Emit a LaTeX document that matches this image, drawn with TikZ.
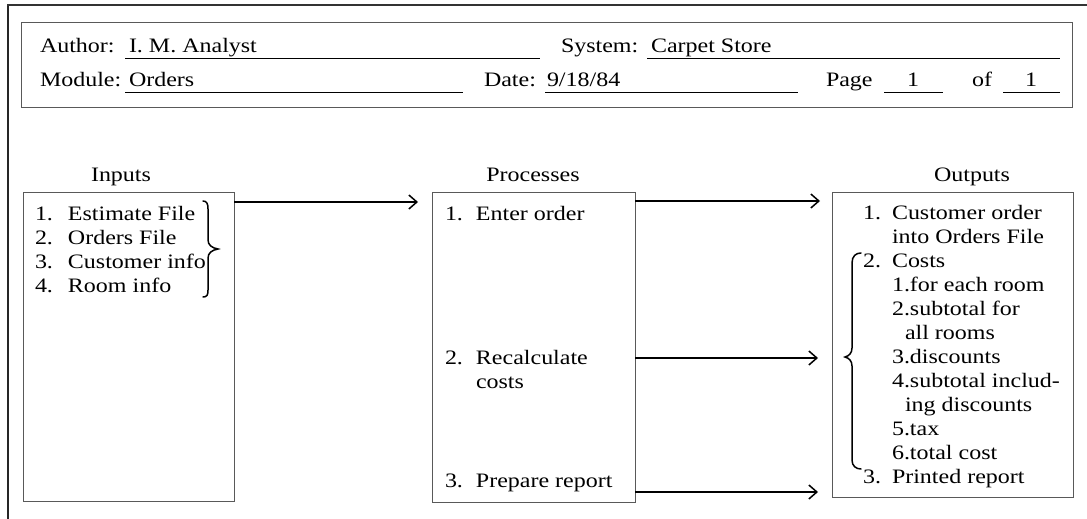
\documentclass[tikz,border=0pt]{standalone}
\usepackage{fontspec}
\setmainfont{Liberation Serif}[FakeStretch=1.17]
\usetikzlibrary{arrows.meta}
\newcommand\fs{\fontsize{20.5}{24}\selectfont}
\begin{document}
\begin{tikzpicture}[x=1pt,y=-1pt,
  txt/.style={inner sep=0pt, outer sep=0pt, anchor=base west, font=\fs},
  lbl/.style={inner sep=0pt, outer sep=0pt, anchor=base, font=\fs},
  frameline/.style={draw=black!85, line width=1.8pt},
  topline/.style={draw=black!80, line width=1.1pt},
  boxline/.style={draw=black!65, line width=0.8pt, inner sep=0pt, outer sep=0pt, anchor=north west},
  uline/.style={draw=black, line width=0.9pt},
  arr/.style={line width=1.8pt, -{Straight Barb[length=8pt,width=14pt,line width=1.5pt]}},
  bracepath/.style={line width=1.5pt, line cap=round}
]
\useasboundingbox (0,0) rectangle (1087,519);
% outer frame
\draw[frameline] (8,519) -- (8,5);
\draw[topline] (7.1,5) -- (1087,5);
% header box
\node[boxline, minimum width=1051pt, minimum height=85pt] (header) at (21,22) {};
\node[txt] (author) at (40,53) {Author:};
\node[txt] (authorv) at (129,53) {I. M. Analyst};
\draw[uline] (125,58) -- (540,58);
\node[txt] (system) at (561,53) {System:};
\node[txt] (systemv) at (651,53) {Carpet Store};
\draw[uline] (647,58) -- (1060,58);
\node[txt] (module) at (40,87) {Module:};
\node[txt] (modulev) at (129,87) {Orders};
\draw[uline] (125,92) -- (463,92);
\node[txt] (date) at (484,87) {Date:};
\node[txt] (datev) at (547,87) {9/18/84};
\draw[uline] (545,92) -- (798,92);
\node[txt] (page) at (826,87) {Page};
\node[lbl] (pagev) at (913,87) {1};
\draw[uline] (884,92) -- (943,92);
\node[txt] (of) at (972,87) {of};
\node[lbl] (ofv) at (1031,87) {1};
\draw[uline] (1003,92) -- (1060,92);
% column labels
\node[lbl] (inlabel) at (121,181) {Inputs};
\node[lbl] (proclabel) at (533,181) {Processes};
\node[lbl] (outlabel) at (972,181) {Outputs};
% boxes
\node[boxline, minimum width=211pt, minimum height=309pt] (inbox) at (23,192) {};
\node[boxline, minimum width=203pt, minimum height=310pt] (procbox) at (432,192) {};
\node[boxline, minimum width=241pt, minimum height=305pt] (outbox) at (832,192) {};
% inputs
\node[txt] (inlist) at (35,220) {\begin{tabular}[t]{@{}p{33pt}@{}l@{}}
1. & Estimate File\\
2. & Orders File\\
3. & Customer info\\
4. & Room info
\end{tabular}};
\draw[bracepath] (203,201) .. controls (207,201) and (208,204) .. (208,209) -- (208,240) .. controls (208,245) and (212,248) .. (218,249) .. controls (212,250) and (208,253) .. (208,258) -- (208,290) .. controls (208,295) and (207,297) .. (203,297);
% processes
\node[txt] (p1) at (445,220) {\begin{tabular}[t]{@{}p{31pt}@{}l@{}}1. & Enter order\end{tabular}};
\node[txt] (p2) at (445,364) {\begin{tabular}[t]{@{}p{31pt}@{}l@{}}2. & Recalculate\\ & costs\end{tabular}};
\node[txt] (p3) at (445,487) {\begin{tabular}[t]{@{}p{31pt}@{}l@{}}3. & Prepare report\end{tabular}};
% outputs
\node[txt] (olist) at (863,219) {\begin{tabular}[t]{@{}p{29pt}@{}l@{}}
1. & Customer order\\
 & into Orders File\\
2. & Costs\\
 & 1.for each room\\
 & 2.subtotal for\\
 & \hspace{13pt}all rooms\\
 & 3.discounts\\
 & 4.subtotal includ-\\
 & \hspace{13pt}ing discounts\\
 & 5.tax\\
 & 6.total cost\\
3. & Printed report
\end{tabular}};
\draw[bracepath] (861,253) .. controls (856,253) and (852,256) .. (852,263) -- (852,348) .. controls (852,353) and (849,356) .. (845,357) .. controls (849,358) and (852,361) .. (852,366) -- (852,460) .. controls (852,466) and (856,469) .. (861,469);
% arrows
\draw[arr] ([yshift=-10pt]inbox.north east) -- ([xshift=-14pt,yshift=-10pt]procbox.north west);
\draw[arr] ([yshift=-9pt]procbox.north east) -- ([xshift=-12pt,yshift=-9pt]outbox.north west);
\draw[arr] ([yshift=-166pt]procbox.north east) -- ([xshift=-14pt,yshift=-166pt]outbox.north west);
\draw[arr] ([yshift=10pt]procbox.south east) -- ([xshift=-14pt,yshift=5pt]outbox.south west);
\end{tikzpicture}
\end{document}
